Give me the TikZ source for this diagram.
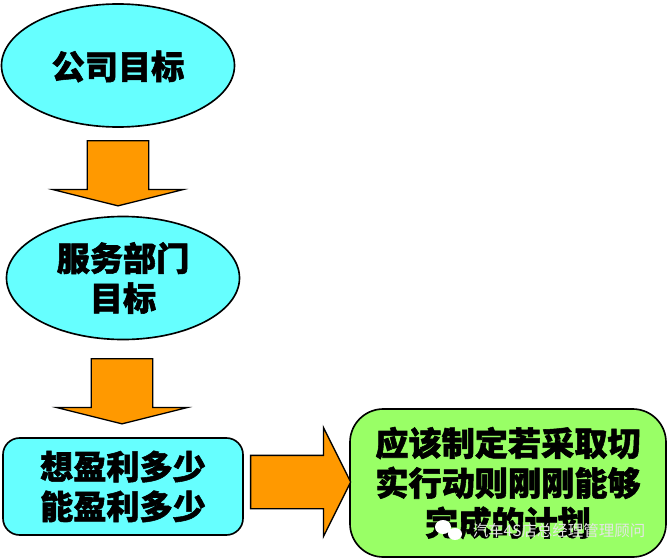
\documentclass[tikz,border=0pt]{standalone}
\usepackage{fontspec}
\newfontfamily\cjk{Noto Sans CJK SC}[BoldFeatures={FakeBold=1.6}]
\usetikzlibrary{shapes.geometric,shapes.arrows}
\definecolor{skyfill}{HTML}{66FFFF}
\definecolor{arrowfill}{HTML}{FF9900}
\definecolor{planfill}{HTML}{99FF66}
\tikzset{
  treenode/.style = {align=center, inner sep=0pt, text centered,
    font=\cjk\bfseries\fontsize{28.3}{34}\selectfont, draw=black, line width=1.4pt},
  drop/.style = {execute at begin node=\rule{0pt}{#1}},% moves the text down
  goal/.style = {treenode, ellipse, fill=skyfill,
    minimum width=6.99cm, minimum height=3.69cm},% ellipse
  ask/.style = {treenode, rectangle, rounded corners=0.5cm, fill=skyfill,
    minimum width=7.2cm, minimum height=2.91cm},% box
  plan/.style = {treenode, rectangle, rounded corners=1cm, fill=planfill,
    minimum width=9.48cm, minimum height=4.44cm},% box
  bigarrow/.style = {single arrow, draw=black, line width=1.1pt, fill=arrowfill,
    inner sep=0pt},
  downarrow/.style = {bigarrow, shape border rotate=270, minimum height=1.95cm,
    minimum width=3.87cm, single arrow head extend=1.03cm, text width=1.81cm,
    single arrow tip angle=152}
}
\begin{document}
\begin{tikzpicture}[x=0.03cm,y=-0.03cm]
\useasboundingbox (0,0) rectangle (668,560);
\node [goal, drop=26pt] (company) at (118,65.5) {公司目标};
\node [goal, drop=36pt] (service) at (123,278) {服务部门\\目标};
\node [ask, drop=30pt] (profit) at (123,486.5) {想盈利多少\\能盈利多少};
\node [plan, drop=34pt] (action) at (508,483) {应该制定若采取切\\实行动则刚刚能够\\完成的计划};
\node [downarrow] (arrowa) at (118,169.5) {};
\node [downarrow] (arrowb) at (122,387.5) {};
\node [bigarrow, minimum height=3cm, minimum width=3.24cm, single arrow tip angle=127,
  single arrow head extend=0.84cm, text height=1.56cm] (arrowc) at (294,482) {};
% watermark
\fill [white] (443,527) ellipse (8 and 7) (455,534) ellipse (7 and 6);
\node [font=\cjk\fontsize{13.2}{15}\selectfont, text=white!90!black, inner sep=0pt] (mark) at (559,531) {汽车4S店总经理管理顾问};
\end{tikzpicture}
\end{document}
